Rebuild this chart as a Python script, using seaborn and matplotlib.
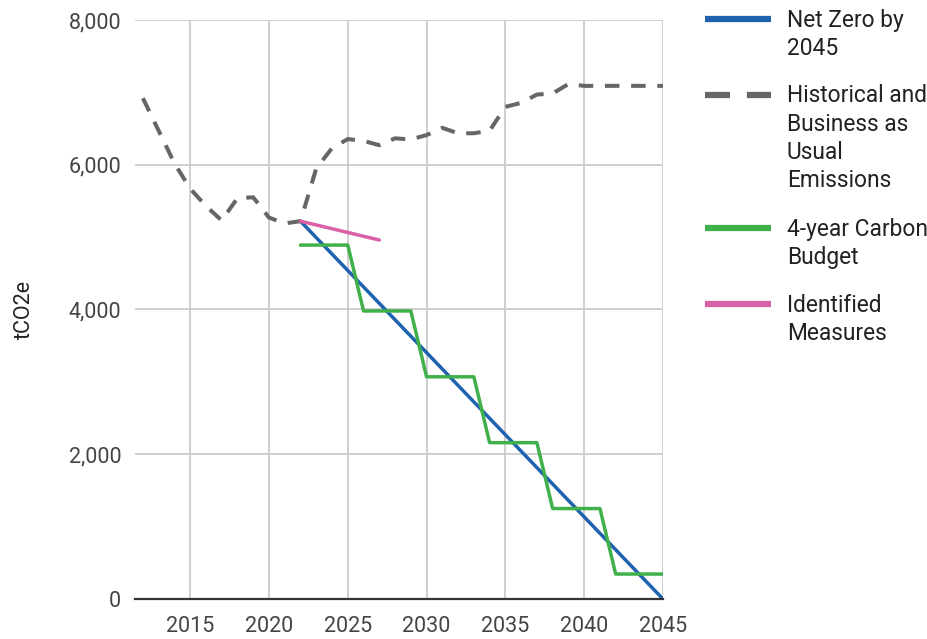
import pandas as pd
import matplotlib.pyplot as plt
import seaborn as sns
from matplotlib.lines import Line2D
from matplotlib.ticker import FuncFormatter

# Historical and business-as-usual emissions (tCO2e)
bau_years = list(range(2012, 2046))
bau_values = [
    6920, 6470, 6020, 5670, 5430, 5230, 5540, 5550, 5270, 5190,
    5220, 5950, 6230, 6355, 6330, 6270, 6365, 6350, 6410, 6510,
    6435, 6435, 6470, 6800, 6855, 6970, 6985, 7115, 7090, 7090,
    7090, 7090, 7090, 7090,
]

# Net zero pathway
nz_years = [2022, 2045]
nz_values = [5220, 0]

# 4-year carbon budget (step)
budget_years = [2022, 2025, 2026, 2029, 2030, 2033, 2034, 2037, 2038, 2041, 2042, 2045]
budget_values = [4890, 4890, 3980, 3980, 3070, 3070, 2160, 2160, 1250, 1250, 345, 345]

# Identified measures
im_years = [2022, 2027]
im_values = [5220, 4960]

labels = ["Net Zero by\n2045", "Historical and\nBusiness as\nUsual\nEmissions",
          "4-year Carbon\nBudget", "Identified\nMeasures"]
colors = ["#1f62b0", "#666666", "#40b04a", "#d95fa6"]

sns.set_theme(style="whitegrid")
plt.rcParams["font.family"] = ["Roboto", "DejaVu Sans"]

fig = plt.figure(figsize=(9.28, 6.39), dpi=100)
ax = fig.add_axes([0.1455, 0.0626, 0.5689, 0.9061])

lw = 2.5
sns.lineplot(x=nz_years, y=nz_values, ax=ax, color=colors[0], linewidth=lw)
sns.lineplot(x=bau_years, y=bau_values, ax=ax, color=colors[1], linewidth=2.9)
bau_line = ax.lines[-1]
bau_line.set_linestyle((0, (3.6, 2.9)))
bau_line.set_dash_capstyle("butt")
bau_line.set_dash_joinstyle("miter")
sns.lineplot(x=budget_years, y=budget_values, ax=ax, color=colors[2], linewidth=lw)
sns.lineplot(x=im_years, y=im_values, ax=ax, color=colors[3], linewidth=lw)

ax.set_xlim(2011.5, 2045)
ax.set_ylim(0, 8000)
ax.set_xticks(range(2015, 2046, 5))
ax.set_yticks(range(0, 8001, 2000))
ax.yaxis.set_major_formatter(FuncFormatter(lambda v, p: f"{int(v):,}"))
ax.grid(True, color="#cccccc", linewidth=1.3)
ax.set_facecolor("white")
for side in ["left", "right", "top"]:
    ax.spines[side].set_visible(False)
ax.spines["bottom"].set_color("#333333")
ax.spines["bottom"].set_linewidth(1.6)
ax.tick_params(axis="both", labelsize=15.5, colors="#444444", length=0, pad=10)
ax.tick_params(axis="x", pad=12)
ax.set_xlabel("")
ax.set_ylabel("tCO2e", fontsize=15.5, color="#222222", labelpad=24)

# legend drawn on the right, handles aligned with first text line
W, H = 928, 639
entry_tops = [19, 95, 228, 304]
spacing = 28.3
for i, (lab, col) in enumerate(zip(labels, colors)):
    yc = entry_tops[i]
    ln = Line2D([705 / W, 771 / W], [1 - yc / H, 1 - yc / H], transform=fig.transFigure,
                color=col, linewidth=4.5, solid_capstyle="butt",
                dash_capstyle="butt")
    if i == 1:
        ln.set_linestyle((0, (4.0, 2.7)))
    fig.add_artist(ln)
    for j, part in enumerate(lab.split("\n")):
        fig.text(787 / W, 1 - (yc + 1 + j * spacing) / H, part, fontsize=16.4,
                 color="#222222", va="center", ha="left")

fig.savefig("out.png", dpi=100, facecolor="white")
